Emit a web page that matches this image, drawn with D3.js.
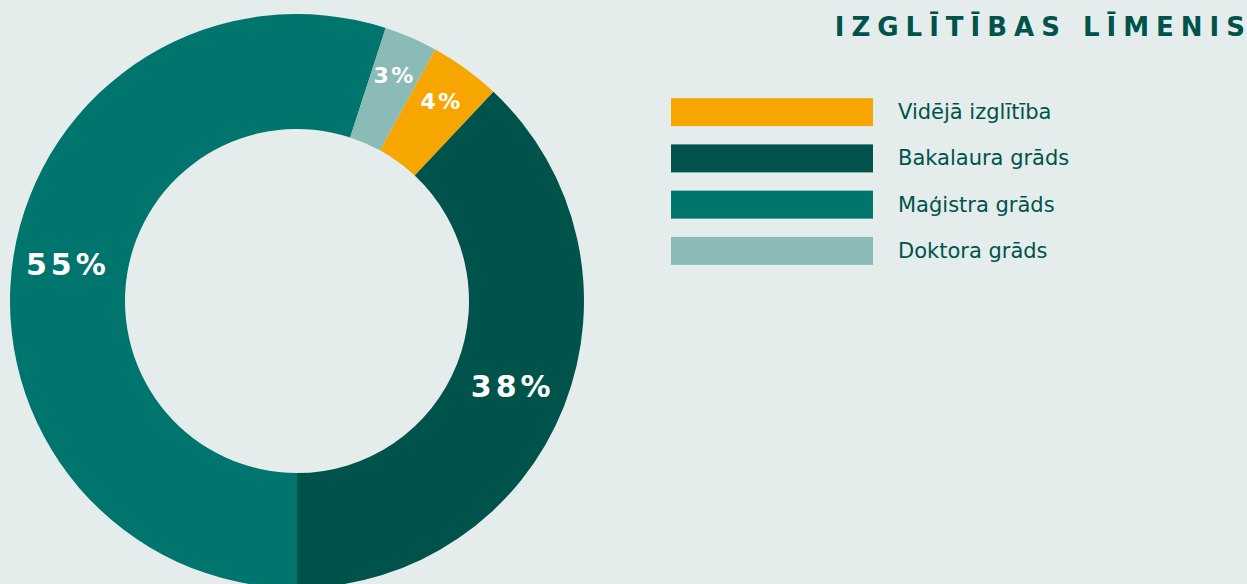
<!DOCTYPE html>
<html><head><meta charset="utf-8">
<script src="https://cdn.jsdelivr.net/npm/d3@7"></script>
<style>
html,body{margin:0;padding:0;background:#e4edec;}
svg{display:block;}
</style></head>
<body>
<svg id="chart" width="1247" height="584"></svg>
<script>
const categories = ["Vidējā izglītība", "Bakalaura grāds", "Maģistra grāds", "Doktora grāds"];
const values = [4, 38, 55, 3];
const colors = ["#f7a600", "#00534a", "#00756d", "#8bbbb7"];
const title = "IZGLĪTĪBAS LĪMENIS";

const svg = d3.select("#chart");
const W = 1247, H = 584;
svg.append("rect").attr("width", W).attr("height", H).attr("fill", "#e4edec");

const cx = 297, cy = 301, rOuter = 287, rInner = 172;
const total = d3.sum(values);
// Bakalaura ends exactly at the bottom (180°)
const start = Math.PI - 2 * Math.PI * (values[0] + values[1]) / total;
const pie = d3.pie().sort(null).value(d => d).startAngle(start).endAngle(start + 2 * Math.PI);
const arcs = pie(values);
const arc = d3.arc().innerRadius(rInner).outerRadius(rOuter);
const color = d3.scaleOrdinal().domain(categories).range(colors);

const g = svg.append("g").attr("transform", `translate(${cx},${cy})`);
g.selectAll("path").data(arcs).join("path")
  .attr("d", arc)
  .attr("fill", (d, i) => color(categories[i]));

const big = v => v >= 10;
g.selectAll("text.lbl").data(arcs).join("text")
  .attr("class", "lbl")
  .attr("transform", d => {
    const r = big(d.value) ? 232 : 246;
    const a = (d.startAngle + d.endAngle) / 2;
    return `translate(${r * Math.sin(a)},${-r * Math.cos(a)})`;
  })
  .attr("text-anchor", "middle")
  .attr("dominant-baseline", "central")
  .attr("fill", "#ffffff")
  .attr("font-family", "DejaVu Sans, Verdana, sans-serif")
  .attr("font-weight", "bold")
  .attr("font-size", d => big(d.value) ? 30 : 22)
  .attr("letter-spacing", d => big(d.value) ? 4 : 2.5)
  .text(d => d.value + "%");

// Title (right edge of last glyph at ~1245); no trailing letter-spacing after last glyph
const ls = 7;
const t = svg.append("text")
  .attr("x", 1245).attr("y", 36)
  .attr("text-anchor", "end")
  .attr("fill", "#00534a")
  .attr("font-family", "DejaVu Sans, Verdana, sans-serif")
  .attr("font-weight", "bold")
  .attr("font-size", 26);
t.append("tspan").attr("letter-spacing", ls).text(title.slice(0, -1));
t.append("tspan").attr("letter-spacing", 0).text(title.slice(-1));

// Legend
const ly = d3.scaleBand().domain(categories).range([89, 274]).paddingInner(0.4).paddingOuter(0.2);
const leg = svg.append("g");
leg.selectAll("rect").data(categories).join("rect")
  .attr("x", 671).attr("y", d => ly(d) + ly.bandwidth() / 2 - 14)
  .attr("width", 202).attr("height", 28)
  .attr("fill", d => color(d));
leg.selectAll("text").data(categories).join("text")
  .attr("x", 898).attr("y", d => ly(d) + ly.bandwidth() / 2)
  .attr("dominant-baseline", "central")
  .attr("fill", "#00534a")
  .attr("font-family", "DejaVu Sans, Verdana, sans-serif")
  .attr("font-size", 21)
  .text(d => d);
</script>
</body></html>
